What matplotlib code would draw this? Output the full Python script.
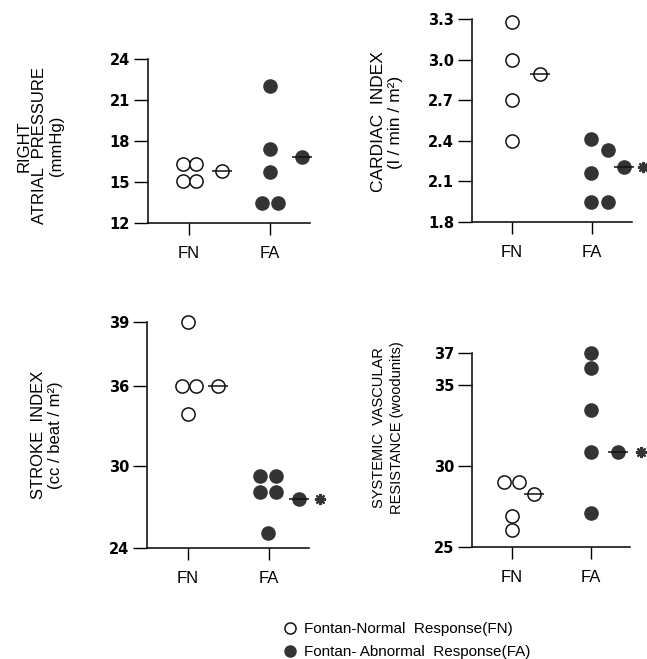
import numpy as np
import matplotlib
matplotlib.use('Agg')
import matplotlib.pyplot as plt
from matplotlib.lines import Line2D

plt.rcParams['font.family'] = ['Liberation Sans', 'DejaVu Sans']

groups = ['FN', 'FA']

# right atrial pressure (mmHg)
rap_fn = [16.3, 16.3, 15.1, 15.1]
rap_fa = [22.0, 17.4, 15.7, 13.5, 13.5]
rap_means = [15.8, 16.8]

# cardiac index (l/min/m2)
ci_fn = [3.28, 3.0, 2.7, 2.4]
ci_fa = [2.41, 2.33, 2.16, 1.95, 1.95]
ci_means = [2.89, 2.21]

# stroke index (cc/beat/m2)
si_fn = [39.0, 36.0, 36.0, 33.9]
si_fa = [29.3, 29.3, 28.1, 28.1, 25.1]
si_means = [36.0, 27.6]

# systemic vascular resistance (woodunits)
svr_fn = [29.0, 29.0, 26.9, 26.05]
svr_fa = [37.0, 36.1, 33.5, 30.9, 27.1]
svr_means = [28.3, 30.9]

# horizontal jitter of the individual points around each group
rap_fn_dx = [-0.07, 0.09, -0.07, 0.09]
rap_fa_dx = [0.0, 0.0, 0.0, -0.09, 0.1]
ci_fn_dx = [0.0, 0.0, 0.0, 0.0]
ci_fa_dx = [-0.01, 0.2, -0.01, -0.01, 0.2]
si_fn_dx = [0.0, -0.07, 0.11, 0.0]
si_fa_dx = [-0.11, 0.09, -0.11, 0.09, -0.01]
svr_fn_dx = [-0.1, 0.09, 0.0, 0.0]
svr_fa_dx = [0.0, 0.0, 0.0, 0.0, 0.0]

FA_COLOR = '#343434'
W, H = 647, 659


def rect(left, right, top, bottom):
    return [left / W, 1 - bottom / H, (right - left) / W, (bottom - top) / H]


def draw_panel(ax, fn, fn_dx, fa, fa_dx, means, mean_x, star_x, ylim, yticks, fmt):
    ax.plot([1 + d for d in fn_dx], fn, 'o', ms=9.5, mfc='white', mec='#111111',
            mew=1.1, clip_on=False, zorder=3)
    ax.plot([2 + d for d in fa_dx], fa, 'o', ms=9.5, mfc=FA_COLOR, mec=FA_COLOR,
            mew=1.0, clip_on=False, zorder=3)
    # group means
    ax.plot(mean_x[0], means[0], 'o', ms=9.5, mfc='white', mec='#111111', mew=1.1,
            clip_on=False, zorder=3)
    ax.plot(mean_x[1], means[1], 'o', ms=9.5, mfc=FA_COLOR, mec=FA_COLOR, mew=1.0,
            clip_on=False, zorder=3)
    ax.plot(mean_x, means, '_', ms=14, mec='#111111', mew=1.1, clip_on=False, zorder=4)
    if star_x is not None:
        ax.plot(star_x, means[1], marker=(8, 2, 0), ls='none', ms=8, mec=FA_COLOR,
                mew=1.6, clip_on=False, zorder=3)

    ax.set_xlim(0.5, 2.5)
    ax.set_ylim(*ylim)
    ax.set_yticks(yticks)
    ax.set_yticklabels([fmt.format(t) for t in yticks], family='DejaVu Sans',
                       fontweight='bold', fontsize=10.5)
    ax.set_xticks([1, 2])
    ax.set_xticklabels(groups, fontsize=12)
    ax.tick_params(axis='y', direction='out', length=10, width=1.0, pad=3)
    ax.tick_params(axis='x', direction='out', length=8.5, width=1.0, pad=8)
    for s in ['top', 'right']:
        ax.spines[s].set_visible(False)
    for s in ['left', 'bottom']:
        ax.spines[s].set_linewidth(1.1)
    ax.patch.set_alpha(0)


fig = plt.figure(figsize=(6.47, 6.59), dpi=100)

ax1 = fig.add_axes(rect(148, 310, 59, 223))
draw_panel(ax1, rap_fn, rap_fn_dx, rap_fa, rap_fa_dx, rap_means, [1.41, 2.40], None,
           (12, 24), [12, 15, 18, 21, 24], '{:g}')

ax2 = fig.add_axes(rect(472, 632, 19, 222))
draw_panel(ax2, ci_fn, ci_fn_dx, ci_fa, ci_fa_dx, ci_means, [1.35, 2.40], 2.64,
           (1.8, 3.3), [1.8, 2.1, 2.4, 2.7, 3.0, 3.3], '{:.1f}')

# stroke index axis in the original is not evenly spaced above 36
si_knots = [0, 24, 30, 36, 39, 100]
si_pos = [-328, 0, 82, 162, 226, 226 + 61 * 21.3]
ax3 = fig.add_axes(rect(147, 309, 322, 548))
ax3.set_yscale('function', functions=(lambda v: np.interp(v, si_knots, si_pos),
                                      lambda p: np.interp(p, si_pos, si_knots)))
draw_panel(ax3, si_fn, si_fn_dx, si_fa, si_fa_dx, si_means, [1.38, 2.38], 2.63,
           (24, 39), [24, 30, 36, 39], '{:g}')

ax4 = fig.add_axes(rect(472, 630, 353, 547))
draw_panel(ax4, svr_fn, svr_fn_dx, svr_fa, svr_fa_dx, svr_means, [1.29, 2.35], 2.64,
           (25, 37), [25, 30, 35, 37], '{:g}')

# y labels
fig.text(40 / W, 1 - 146 / H, 'RIGHT\nATRIAL  PRESSURE\n(mmHg)', rotation=90,
         ha='center', va='center', multialignment='center', fontsize=12, linespacing=1.1)
fig.text(387 / W, 1 - 122 / H, 'CARDIAC  INDEX\n(l / min / m²)', rotation=90,
         ha='center', va='center', multialignment='center', fontsize=12.5, linespacing=1.1)
fig.text(47 / W, 1 - 435 / H, 'STROKE  INDEX\n(cc / beat / m²)', rotation=90,
         ha='center', va='center', multialignment='center', fontsize=12, linespacing=1.1)
fig.text(388 / W, 1 - 428 / H, 'SYSTEMIC  VASCULAR\nRESISTANCE (woodunits)', rotation=90,
         ha='center', va='center', multialignment='center', fontsize=10.5, linespacing=1.3)

handles = [
    Line2D([], [], ls='none', marker='o', ms=8, mfc='white', mec='#111111', mew=1.1),
    Line2D([], [], ls='none', marker='o', ms=8, mfc=FA_COLOR, mec=FA_COLOR),
]
fig.legend(handles, ['Fontan-Normal  Response(FN)', 'Fontan- Abnormal  Response(FA)'],
           loc='upper left', bbox_to_anchor=(282 / W, 1 - 622 / H), frameon=False,
           fontsize=11, handlelength=1.0, handletextpad=0.45, labelspacing=0.6,
           borderpad=0, borderaxespad=0)

fig.savefig('out.png', dpi=100)
